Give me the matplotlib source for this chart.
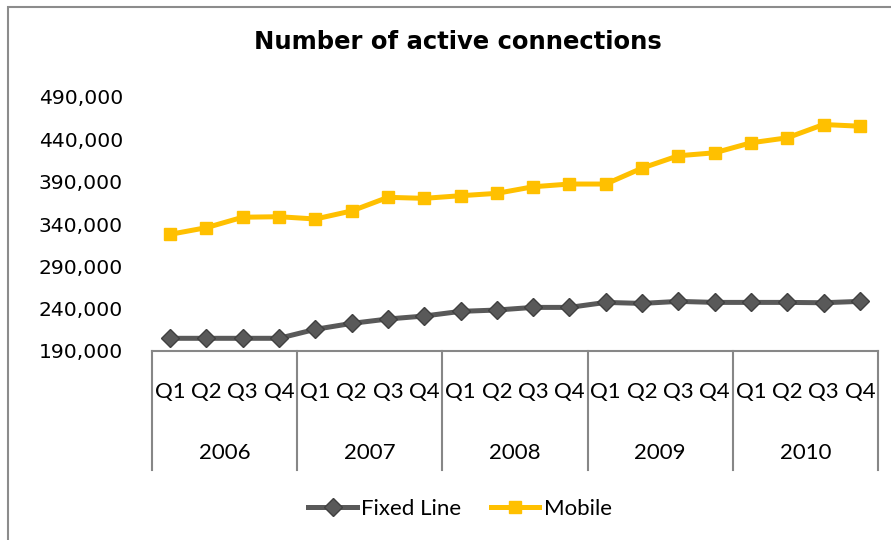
import matplotlib
matplotlib.use("Agg")
import matplotlib.pyplot as plt
import matplotlib.transforms as mtransforms
from matplotlib.patches import Rectangle
from matplotlib.ticker import FuncFormatter

years = ["2006", "2007", "2008", "2009", "2010"]
quarters = ["Q1", "Q2", "Q3", "Q4"]
fixed_line = [205000, 205000, 205000, 205000,
              215600, 222600, 227800, 231300,
              236800, 238400, 241500, 241500,
              247400, 246200, 248600, 247400,
              247400, 247400, 247000, 248600]
mobile = [327800, 335700, 348000, 348600,
          345900, 355400, 371500, 370300,
          373400, 376200, 384000, 387200,
          387200, 406000, 420600, 424100,
          435900, 441800, 457500, 455500]
y_ticks = [190000, 240000, 290000, 340000, 390000, 440000, 490000]

CAT_FONT = ["Lato", "DejaVu Sans"]
AX_GREY = "#878787"

fig = plt.figure(figsize=(8.91, 5.40), dpi=100)
fig.patches.append(Rectangle((8 / 891, -0.05), 1.1, 1 - 7 / 540 + 0.05,
                             transform=fig.transFigure, fill=False,
                             edgecolor="#8c8c8c", linewidth=1.5))

ax = fig.add_axes([152 / 891, 1 - 351 / 540, (878 - 152) / 891, (351 - 97) / 540])

labels_q = [q for y in years for q in quarters]
x = list(range(len(labels_q)))

ax.plot(x, fixed_line, color="#595959", linewidth=3.6, marker="D",
        markersize=9.2, markerfacecolor="#595959", markeredgecolor="#404040",
        markeredgewidth=1.0, label="Fixed Line", solid_joinstyle="round")
ax.plot(x, mobile, color="#FFC000", linewidth=3.6, marker="s",
        markersize=8.8, markerfacecolor="#FFC000", markeredgecolor="#FFC000",
        label="Mobile", solid_joinstyle="round")

ax.set_xlim(-0.5, len(x) - 0.5)
ax.set_ylim(y_ticks[0], y_ticks[-1])
ax.set_yticks(y_ticks)
ax.yaxis.set_major_formatter(FuncFormatter(lambda v, p: f"{int(v):,}"))
ax.tick_params(axis="y", length=0, pad=21, labelsize=14.6, labelcolor="#000000")

ax.set_xticks(x)
ax.set_xticklabels(labels_q, family=CAT_FONT, fontsize=16)
ax.tick_params(axis="x", length=0, pad=29.5)
for lab in ax.get_xticklabels():
    lab.set_verticalalignment("center")

for side in ["top", "right", "left"]:
    ax.spines[side].set_visible(False)
ax.spines["bottom"].set_color(AX_GREY)
ax.spines["bottom"].set_linewidth(1.5)

trans = mtransforms.blended_transform_factory(ax.transData, ax.transAxes)
sep_depth = -(470 - 351) / 254
for k in range(len(years) + 1):
    xs = k * len(quarters) - 0.5
    ax.plot([xs, xs], [0, sep_depth], transform=trans, color=AX_GREY,
            linewidth=1.5, clip_on=False)
for k, yr in enumerate(years):
    xc = k * len(quarters) + (len(quarters) - 1) / 2
    ax.text(xc, -(453 - 351) / 254, yr, transform=trans, ha="center",
            va="center", family=CAT_FONT, fontsize=16)

fig.text(458 / 891, 1 - 42 / 540, "Number of active connections",
         ha="center", va="center", fontsize=17.5, fontweight="bold")

leg = fig.legend(loc="center", bbox_to_anchor=(460 / 891, 1 - 509 / 540),
                 ncol=2, frameon=False, prop={"family": CAT_FONT, "size": 16},
                 handlelength=2.2, handletextpad=0.2, columnspacing=1.3)

fig.savefig("out.png", dpi=100)
